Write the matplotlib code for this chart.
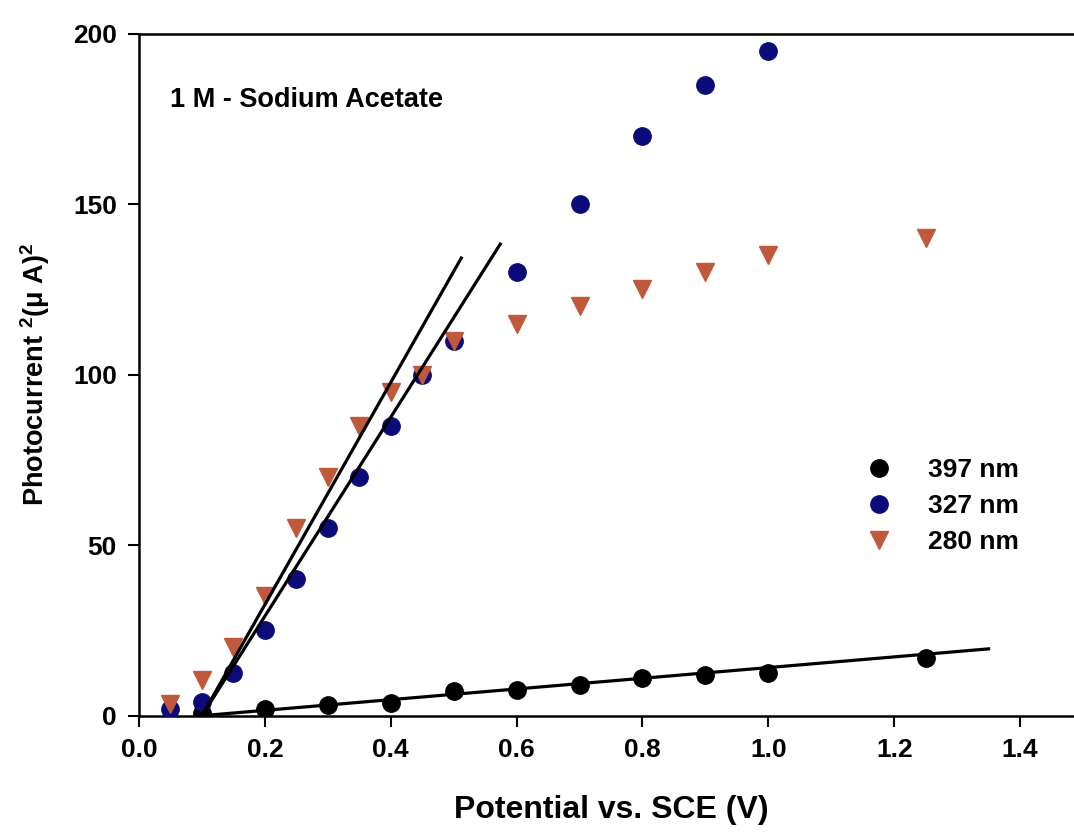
import matplotlib
matplotlib.use("Agg")
import matplotlib.pyplot as plt

plt.rcParams['font.family'] = ['Liberation Sans', 'DejaVu Sans']
plt.rcParams['font.weight'] = 'bold'
plt.rcParams['mathtext.fontset'] = 'custom'
plt.rcParams['mathtext.rm'] = 'Liberation Sans:bold'
plt.rcParams['mathtext.it'] = 'Liberation Sans:bold'
plt.rcParams['mathtext.bf'] = 'Liberation Sans:bold'

# 397 nm
x_397 = [0.1, 0.2, 0.3, 0.4, 0.5, 0.6, 0.7, 0.8, 0.9, 1.0, 1.25]
y_397 = [0.8, 2.0, 3.2, 3.8, 7.2, 7.5, 9.0, 11.0, 12.0, 12.6, 17.0]
# 327 nm
x_327 = [0.05, 0.1, 0.15, 0.2, 0.25, 0.3, 0.35, 0.4, 0.45, 0.5, 0.6, 0.7, 0.8, 0.9, 1.0]
y_327 = [2.0, 4.0, 12.5, 25, 40, 55, 70, 85, 100, 110, 130, 150, 170, 185, 195]
# 280 nm
x_280 = [0.05, 0.1, 0.15, 0.2, 0.25, 0.3, 0.35, 0.4, 0.45, 0.5, 0.6, 0.7, 0.8, 0.9, 1.0, 1.25]
y_280 = [3.5, 10.5, 20, 35, 55, 70, 85, 95, 100, 110, 115, 120, 125, 130, 135, 140]

# linear fits (end points)
fit_397_x = [0.1, 1.35]
fit_397_y = [0.0, 19.6]
fit_280_x = [0.1, 0.512]
fit_280_y = [0.0, 134.2]
fit_327_x = [0.1, 0.574]
fit_327_y = [0.0, 138.3]

fig = plt.figure(figsize=(10.74, 8.36), dpi=100)
ax = fig.add_axes([139 / 1074, 0.1439, 944 / 1074, 0.8158])

ax.plot(x_397, y_397, 'o', color='black', ms=12.5, label='397 nm', zorder=3)
ax.plot(x_327, y_327, 'o', color='#0b0b7a', ms=12.5, label='327 nm', zorder=3)
ax.plot(x_280, y_280, 'v', color='#c0593b', ms=13, label='280 nm', zorder=3)

for fx, fy in [(fit_397_x, fit_397_y), (fit_280_x, fit_280_y), (fit_327_x, fit_327_y)]:
    ax.plot(fx, fy, '-', color='black', lw=2.3, zorder=4)

ax.set_xlim(0, 1.5)
ax.set_ylim(0, 200)
ax.set_xticks([0.0, 0.2, 0.4, 0.6, 0.8, 1.0, 1.2, 1.4])
ax.set_xticklabels(['0.0', '0.2', '0.4', '0.6', '0.8', '1.0', '1.2', '1.4'])
ax.set_yticks([0, 50, 100, 150, 200])
ax.tick_params(direction='out', length=8, width=1.5, labelsize=19, pad=8)
for s in ax.spines.values():
    s.set_linewidth(1.8)
ax.spines['right'].set_visible(False)

ax.set_xlabel('Potential vs. SCE (V)', fontsize=23, fontweight='bold', labelpad=24)
ax.set_ylabel(r'Photocurrent $^2$(μ A)$^2$', fontsize=19.5, fontweight='bold', labelpad=15)

ax.text(0.05, 180.5, '1 M - Sodium Acetate', fontsize=19.5, fontweight='bold', va='center')

ax.legend(loc='upper left', bbox_to_anchor=(0.731, 0.412), frameon=False,
          handletextpad=0.85, labelspacing=0.45, prop={'weight': 'bold', 'size': 19})

fig.savefig('out.png', dpi=100)
